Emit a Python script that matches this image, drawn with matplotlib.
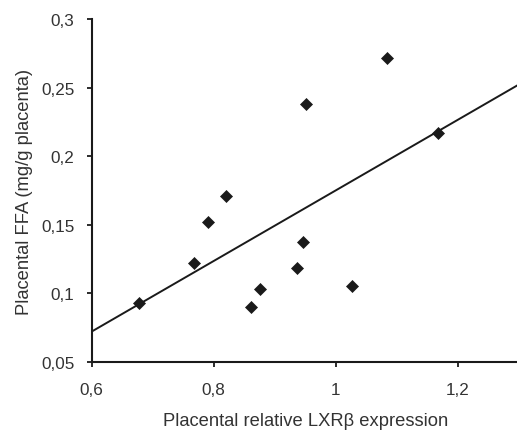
import numpy as np
import matplotlib
matplotlib.use("Agg")
import matplotlib.pyplot as plt
from matplotlib.ticker import FixedLocator, FixedFormatter

# Data
lxr_beta = [0.678, 0.767, 0.790, 0.820, 0.861, 0.876, 0.936, 0.947,
            1.026, 0.951, 1.084, 1.167]
ffa = [0.0932, 0.1220, 0.1523, 0.1708, 0.0899, 0.1032, 0.1187, 0.1372,
       0.1054, 0.2378, 0.2713, 0.2167]

x_ticks = [0.6, 0.8, 1.0, 1.2]
x_tick_labels = ["0,6", "0,8", "1", "1,2"]
y_ticks = [0.05, 0.1, 0.15, 0.2, 0.25, 0.3]
y_tick_labels = ["0,05", "0,1", "0,15", "0,2", "0,25", "0,3"]

plt.rcParams['font.family'] = ['Liberation Sans', 'DejaVu Sans']

fig = plt.figure(figsize=(5.17, 4.31), dpi=100)
ax = fig.add_axes([0.1774, 0.1578, 0.8259, 0.7958])

ax.plot(lxr_beta, ffa, linestyle="none", marker="D", markersize=6.6,
        color="#1a1a1a", markeredgewidth=0.5)

# Linear trend line (least squares)
slope, intercept = np.polyfit(lxr_beta, ffa, 1)
xs = np.array([0.6, 1.3])
ax.plot(xs, slope * xs + intercept, color="#1a1a1a", linewidth=1.4)

ax.set_xlim(0.6, 1.3)
ax.set_ylim(0.05, 0.3)
ax.xaxis.set_major_locator(FixedLocator(x_ticks))
ax.xaxis.set_major_formatter(FixedFormatter(x_tick_labels))
ax.yaxis.set_major_locator(FixedLocator(y_ticks))
ax.yaxis.set_major_formatter(FixedFormatter(y_tick_labels))

for side in ["top", "right"]:
    ax.spines[side].set_visible(False)
for side in ["left", "bottom"]:
    ax.spines[side].set_linewidth(1.5)
    ax.spines[side].set_color("#1a1a1a")

ax.tick_params(direction="out", length=3.8, width=1.3, colors="#1a1a1a",
               labelsize=12.3, labelcolor="#333333")
ax.tick_params(axis="x", pad=10.5)
ax.tick_params(axis="y", pad=8.8)

ax.set_xlabel("Placental relative LXR\u03b2 expression", fontsize=13.2,
              color="#333333", labelpad=11)
ax.set_ylabel("Placental FFA (mg/g placenta)", fontsize=13.2,
              color="#333333", labelpad=6)

fig.savefig("out.png", dpi=100)
